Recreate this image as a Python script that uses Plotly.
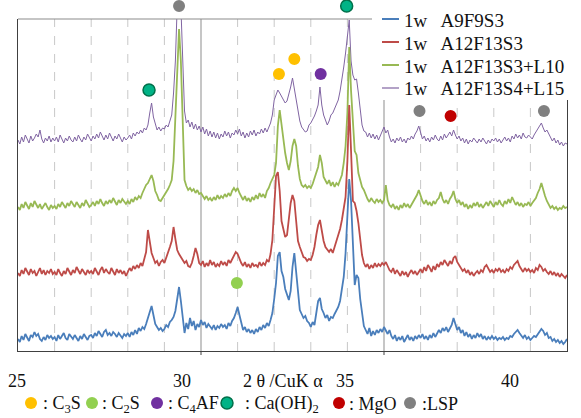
import plotly.graph_objects as go

# ---------------- data ----------------
two_theta = [round(25 + 0.05 * i, 2) for i in range(301)]

blue_A9F9S3 = (
    [12, 9, 15, 11, 17, 13, 10, 16, 14, 19, 15, 17, 12, 10, 14, 11, 16, 13, 15, 12]
    + [14, 10, 16, 12, 15, 18, 13, 11, 17, 14, 12, 16, 13, 10, 15, 12, 17, 14, 11, 15]
    + [16, 13, 18, 15, 20, 17, 14, 19, 21, 16, 18, 15, 19, 17, 14, 18, 16, 13, 17, 15]
    + [18, 14, 19, 16, 21, 17, 23, 20, 24, 22, 27, 33, 38, 45, 36, 27, 24, 21, 23, 20]
    + [22, 26, 24, 29, 31, 34, 40, 51, 64, 50, 30, 18, 28, 22, 33, 25, 30, 21, 27, 24]
    + [31, 26, 29, 23, 27, 24, 22, 26, 21, 25, 23, 27, 24, 26, 22, 28, 25, 30, 33, 38]
    + [44, 36, 27, 21, 24, 19, 22, 18, 21, 17, 22, 19, 24, 21, 26, 23, 28, 25, 31, 38]
    + [52, 68, 95, 99, 80, 74, 62, 57, 51, 60, 84, 98, 76, 55, 41, 37, 33, 35, 30, 28]
    + [24, 29, 26, 38, 50, 53, 42, 38, 33, 36, 30, 34, 33, 37, 40, 44, 50, 62, 74, 98]
    + [140, 172, 150, 112, 66, 76, 73, 52, 36, 25, 21, 17, 23, 15, 20, 16, 21, 18, 22, 19]
    + [24, 20, 17, 21, 15, 12, 16, 10, 14, 11, 15, 9, 13, 16, 11, 14, 10, 15, 12, 16]
    + [13, 17, 12, 15, 11, 16, 13, 18, 14, 17, 21, 18, 23, 20, 24, 19, 22, 26, 33, 27]
    + [21, 24, 18, 21, 15, 19, 14, 17, 12, 16, 13, 18, 14, 17, 12, 15, 11, 14, 12, 15]
    + [12, 14, 11, 13, 12, 14, 11, 13, 12, 15, 14, 17, 19, 21, 18, 15, 13, 16, 12, 14]
    + [11, 13, 15, 14, 17, 19, 22, 20, 16, 18, 13, 14, 10, 12, 9, 11, 8, 10, 7, 9]
    + [12]
)

red_A12F13S3 = (
    [78, 75, 81, 77, 83, 79, 76, 82, 78, 80, 75, 79, 83, 77, 81, 76, 80, 78, 82, 77]
    + [79, 76, 82, 78, 75, 80, 77, 83, 79, 76, 81, 78, 84, 80, 77, 82, 79, 76, 81, 78]
    + [80, 77, 83, 79, 76, 81, 84, 78, 82, 79, 77, 83, 80, 76, 82, 78, 81, 77, 80, 75]
    + [79, 83, 80, 85, 82, 86, 83, 88, 85, 91, 99, 121, 110, 98, 93, 88, 90, 85, 89, 91]
    + [88, 93, 97, 104, 110, 124, 112, 101, 97, 94, 92, 88, 90, 85, 84, 88, 95, 103, 97, 88]
    + [86, 90, 84, 88, 85, 91, 86, 89, 84, 87, 85, 90, 86, 89, 85, 91, 88, 92, 95, 99]
    + [97, 92, 88, 85, 89, 84, 87, 83, 88, 85, 86, 84, 89, 85, 88, 86, 91, 89, 97, 111]
    + [151, 175, 179, 160, 130, 122, 114, 116, 130, 148, 156, 150, 130, 110, 104, 98, 94, 93, 90, 92]
    + [91, 96, 104, 116, 126, 131, 118, 110, 104, 101, 99, 102, 98, 104, 110, 114, 122, 131, 142, 154]
    + [190, 246, 200, 150, 148, 140, 128, 112, 96, 88, 84, 87, 82, 86, 83, 88, 84, 87, 85, 88]
    + [86, 89, 84, 81, 79, 83, 77, 81, 78, 75, 80, 76, 79, 74, 78, 81, 77, 80, 76, 79]
    + [82, 78, 84, 80, 86, 83, 79, 85, 81, 87, 84, 89, 86, 91, 88, 85, 90, 87, 93, 95]
    + [89, 86, 83, 80, 82, 78, 81, 76, 79, 75, 78, 80, 77, 81, 79, 84, 86, 82, 79, 81]
    + [78, 82, 80, 83, 79, 81, 78, 82, 80, 84, 82, 86, 88, 90, 85, 82, 79, 83, 80, 82]
    + [79, 81, 78, 83, 81, 86, 84, 80, 82, 79, 77, 80, 76, 79, 75, 78, 74, 77, 75, 73]
    + [76]
)

green_A12F13S3_L10 = (
    [144, 141, 147, 143, 149, 145, 142, 148, 144, 150, 146, 143, 147, 142, 145, 148, 144, 141, 146, 143]
    + [145, 142, 147, 144, 149, 146, 143, 148, 145, 150, 147, 144, 149, 146, 143, 148, 145, 151, 147, 144]
    + [146, 149, 145, 150, 147, 152, 148, 145, 150, 147, 151, 148, 153, 149, 146, 151, 148, 152, 149, 147]
    + [150, 147, 152, 149, 154, 151, 155, 153, 158, 162, 166, 168, 172, 176, 170, 160, 156, 151, 150, 153]
    + [156, 158, 162, 166, 171, 190, 234, 290, 322, 290, 234, 171, 165, 161, 163, 160, 162, 158, 161, 157]
    + [158, 155, 152, 155, 151, 153, 150, 154, 151, 156, 152, 155, 153, 157, 154, 158, 155, 160, 163, 160]
    + [163, 158, 154, 151, 155, 150, 153, 149, 154, 151, 156, 152, 158, 154, 157, 153, 160, 163, 168, 172]
    + [176, 188, 225, 241, 225, 208, 198, 188, 181, 190, 205, 212, 205, 185, 172, 166, 164, 166, 163, 165]
    + [163, 167, 172, 178, 184, 196, 188, 174, 170, 167, 171, 165, 169, 164, 168, 166, 171, 176, 188, 205]
    + [238, 304, 260, 231, 200, 196, 178, 171, 164, 161, 156, 152, 149, 153, 150, 148, 152, 149, 151, 148]
    + [151, 166, 151, 146, 144, 147, 142, 145, 141, 146, 143, 148, 144, 147, 143, 146, 149, 152, 156, 161]
    + [155, 150, 147, 151, 146, 149, 145, 150, 147, 151, 153, 159, 152, 148, 151, 147, 152, 155, 160, 152]
    + [148, 151, 146, 149, 144, 147, 142, 146, 143, 148, 145, 149, 144, 147, 143, 146, 149, 145, 150, 147]
    + [144, 149, 146, 151, 147, 145, 150, 147, 152, 148, 154, 150, 146, 149, 145, 148, 144, 147, 146, 149]
    + [145, 148, 151, 153, 158, 162, 168, 160, 155, 150, 146, 143, 145, 142, 144, 141, 143, 142, 145, 143]
    + [144]
)

purple_A12F13S4_L15 = (
    [211, 207, 214, 209, 216, 212, 208, 215, 210, 213, 217, 214, 221, 212, 208, 213, 210, 215, 209, 213]
    + [210, 214, 209, 216, 211, 208, 213, 210, 215, 211, 209, 214, 210, 216, 212, 209, 214, 211, 217, 213]
    + [210, 215, 212, 217, 213, 219, 214, 211, 216, 212, 218, 214, 210, 215, 212, 217, 213, 209, 214, 211]
    + [213, 216, 212, 218, 215, 219, 217, 221, 218, 223, 221, 226, 238, 248, 234, 226, 221, 224, 220, 223]
    + [222, 226, 224, 230, 236, 258, 290, 345, 370, 345, 284, 240, 228, 231, 224, 229, 222, 227, 221, 225]
    + [219, 224, 217, 222, 215, 220, 214, 219, 213, 218, 212, 217, 214, 220, 215, 219, 213, 218, 216, 221]
    + [217, 222, 215, 219, 213, 218, 214, 220, 216, 221, 215, 219, 217, 222, 218, 223, 219, 224, 228, 236]
    + [251, 256, 261, 258, 255, 251, 248, 250, 256, 264, 273, 262, 248, 238, 230, 224, 221, 219, 220, 226]
    + [228, 231, 235, 240, 246, 264, 246, 236, 230, 226, 230, 236, 238, 242, 247, 251, 260, 271, 284, 298]
    + [318, 331, 290, 276, 271, 272, 258, 241, 226, 220, 219, 214, 218, 213, 217, 212, 216, 211, 215, 220]
    + [224, 218, 221, 214, 209, 212, 208, 213, 210, 214, 209, 212, 208, 213, 211, 215, 212, 217, 220, 225]
    + [218, 212, 215, 210, 213, 209, 214, 211, 216, 212, 210, 215, 211, 217, 213, 216, 219, 215, 221, 216]
    + [212, 215, 210, 213, 208, 212, 207, 211, 209, 213, 210, 208, 212, 209, 213, 210, 207, 211, 208, 212]
    + [210, 213, 209, 212, 208, 211, 214, 210, 213, 209, 215, 212, 217, 213, 216, 212, 218, 214, 213, 216]
    + [214, 212, 216, 219, 222, 225, 228, 223, 219, 221, 217, 214, 210, 213, 208, 211, 206, 209, 205, 208]
    + [207]
)

series_names = ["1w\u00a0\u00a0\u2009A9F9S3", "1w\u00a0\u00a0\u2009A12F13S3",
                "1w\u00a0\u00a0\u2009A12F13S3+L10", "1w\u00a0\u00a0\u2009A12F13S4+L15"]

# phase identification markers (2theta, intensity level, phase)
mark_x = [29.40, 33.98, 28.58, 32.13, 32.55, 33.27, 30.98, 35.97, 36.82, 39.37]
mark_y = [345, 345, 261, 277, 292, 277, 68, 240, 235, 240]
mark_phase = ["LSP", "CH", "CH", "C3S", "C3S", "C4AF", "C2S", "LSP", "MgO", "LSP"]

phase_keys = ["C3S", "C2S", "C4AF", "CH", "MgO", "LSP"]
phase_labels = [":\u00a0C<sub>3</sub>S", ":\u00a0C<sub>2</sub>S", ":\u00a0C<sub>4</sub>AF",
                ":\u00a0Ca(OH)<sub>2</sub>", ":\u00a0MgO", ":LSP"]

tick_labels = ["25", "30", "35", "40"]
axis_title = "2\u00a0θ\u00a0/CuK\u00a0α"

# ---------------- styles / geometry ----------------
W, H = 581, 418
L, R, T, B = 18, 14, 19, 67
PW, PH = W - L - R, H - T - B
XMIN, XMAX = 25, 40
YMAX = 332


def px2paper_x(px):
    return (px - L) / PW


def py2paper(py):
    return (H - B - py) / PH


series_colors = ["#4A7EBB", "#BE4B48", "#98B954", "#8064A2"]
series_widths = [1.8, 1.8, 1.8, 1.0]
phase_colors = {"C3S": "#FFC000", "C2S": "#92D050", "C4AF": "#7030A0",
                "CH": "#00B386", "MgO": "#C00000", "LSP": "#808080"}
phase_lines = {"CH": "#00704A"}
FONT = "Liberation Serif, Times New Roman, serif"
TXT = "#111111"
R_DOT = 6

fig = go.Figure()
ys = [blue_A9F9S3, red_A12F13S3, green_A12F13S3_L10, purple_A12F13S4_L15]
for i in [3, 2, 1, 0]:
    fig.add_trace(go.Scatter(
        x=two_theta, y=ys[i], mode="lines", name=series_names[i],
        line=dict(color=series_colors[i], width=series_widths[i]),
        hoverinfo="skip", showlegend=False))

shapes = []
annotations = []


def dot(xref, x, yval_paper, key):
    lw = 1.5 if key in phase_lines else 0
    return dict(type="circle", xref=xref, yref="paper",
                xsizemode="pixel", xanchor=x, x0=-R_DOT, x1=R_DOT,
                ysizemode="pixel", yanchor=yval_paper, y0=-R_DOT, y1=R_DOT,
                fillcolor=phase_colors[key],
                line=dict(color=phase_lines.get(key, phase_colors[key]), width=lw),
                layer="above")


# grid
minor_grid = [26, 27, 28, 29, 31, 32, 33, 34, 36, 37, 38, 39]
major_grid = [30, 35]
for g in minor_grid:
    shapes.append(dict(type="line", x0=g, x1=g, y0=0, y1=1, xref="x", yref="paper",
                       line=dict(color="#C8C8C8", width=1, dash="dash"), layer="below"))
for g in major_grid:
    shapes.append(dict(type="line", x0=g, x1=g, y0=0, y1=1, xref="x", yref="paper",
                       line=dict(color="#A8A8A8", width=1.3), layer="below"))
    shapes.append(dict(type="line", x0=g, x1=g, y0=0, y1=-4 / PH, xref="x", yref="paper",
                       line=dict(color="#404040", width=1)))
# top frame line (gray)
shapes.append(dict(type="line", x0=0, x1=1, y0=1, y1=1, xref="paper", yref="paper",
                   line=dict(color="#8C8C8C", width=1.2), layer="above"))

# series legend box (upper right, opaque)
leg_x0, leg_x1, leg_y0, leg_y1 = 372, 581, 0, 100
shapes.append(dict(type="rect", xref="paper", yref="paper",
                   x0=px2paper_x(leg_x0), x1=px2paper_x(leg_x1),
                   y0=py2paper(leg_y1), y1=py2paper(leg_y0),
                   fillcolor="white", line=dict(width=0), layer="above"))
leg_rows_py = [19, 42, 65, 88]
leg_line_px = (382, 399)
leg_text_px = 402
for i, rp in enumerate(leg_rows_py):
    shapes.append(dict(type="line", xref="paper", yref="paper",
                       x0=px2paper_x(leg_line_px[0]), x1=px2paper_x(leg_line_px[1]),
                       y0=py2paper(rp), y1=py2paper(rp),
                       line=dict(color=series_colors[i], width=series_widths[i] + 0.2),
                       layer="above"))
    annotations.append(dict(x=px2paper_x(leg_text_px), y=py2paper(rp + 1), xref="paper", yref="paper",
                            text=series_names[i], showarrow=False, xanchor="left", yanchor="middle",
                            font=dict(family=FONT, size=19, color=TXT)))

# peak markers: x in data units, y level converted through the y scale (0..YMAX)
for mx, my, mp in zip(mark_x, mark_y, mark_phase):
    shapes.append(dot("x", mx, my / YMAX, mp))

# phase key row under the axis
key_marker_px = [31, 92, 157, 227, 339, 410]
key_text_px = [41, 100, 166, 243, 347, 420]
key_py = 403
for k, p in zip(phase_keys, key_marker_px):
    shapes.append(dot("paper", px2paper_x(p), py2paper(key_py), k))

for lab, tp in zip(phase_labels, key_text_px):
    annotations.append(dict(x=px2paper_x(tp), y=py2paper(key_py + 1), xref="paper", yref="paper",
                            text=lab, showarrow=False, xanchor="left", yanchor="middle",
                            font=dict(family=FONT, size=18, color=TXT)))

# tick labels (as placed in the reference)
tick_label_px = [16.7, 181.5, 345.3, 510]
for t, p in zip(tick_labels, tick_label_px):
    annotations.append(dict(x=px2paper_x(p), y=py2paper(381), xref="paper", yref="paper",
                            text=t, showarrow=False, xanchor="center", yanchor="middle",
                            font=dict(family=FONT, size=18, color=TXT)))
annotations.append(dict(x=px2paper_x(282.5), y=py2paper(381), xref="paper", yref="paper",
                        text=axis_title, showarrow=False, xanchor="center", yanchor="middle",
                        font=dict(family=FONT, size=18, color=TXT)))

fig.update_layout(
    width=W, height=H,
    margin=dict(l=L, r=R, t=T, b=B, autoexpand=False),
    paper_bgcolor="white", plot_bgcolor="white",
    font=dict(family=FONT, size=18, color=TXT),
    xaxis=dict(range=[XMIN, XMAX], showgrid=False, zeroline=False, showticklabels=False,
               ticks="", showline=True, linecolor="#404040", linewidth=1),
    yaxis=dict(range=[0, YMAX], showgrid=False, zeroline=False, showticklabels=False,
               ticks="", showline=True, mirror=True, linecolor="#404040", linewidth=1),
    annotations=annotations, shapes=shapes,
    showlegend=False,
)

fig.write_html("out.html", config={"displayModeBar": False},
               post_script="document.body.style.margin='0px';")
